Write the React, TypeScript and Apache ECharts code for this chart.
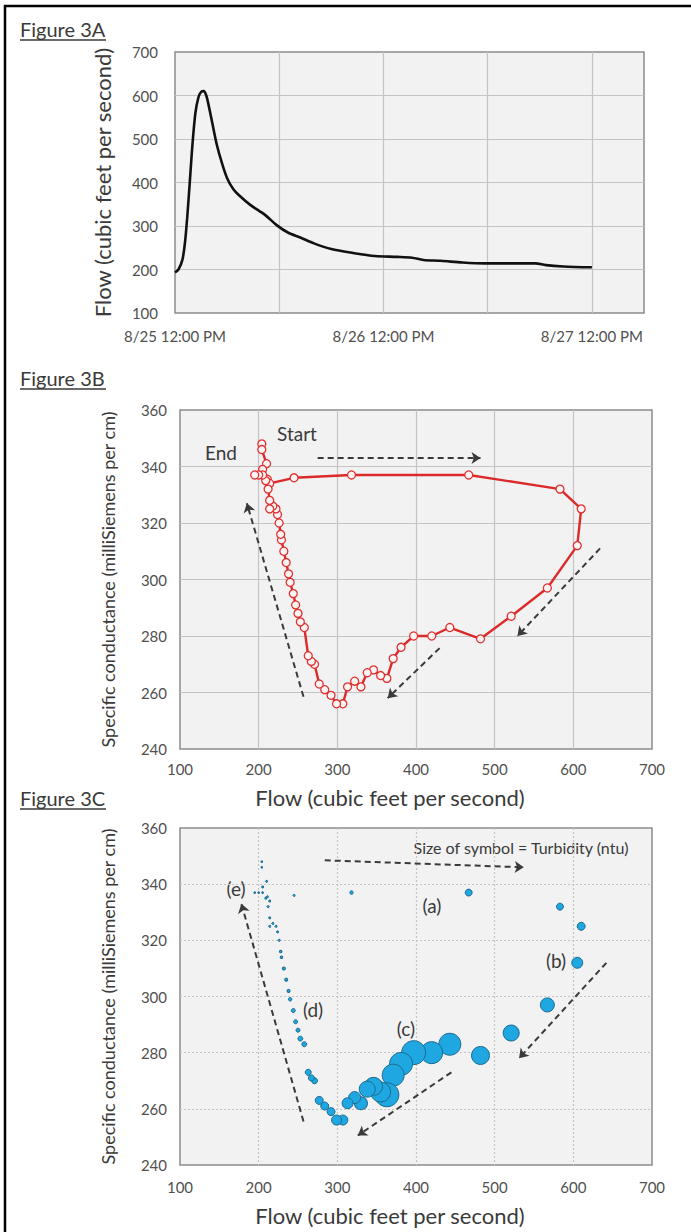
import { useEffect, useRef } from "react";
import * as echarts from "echarts";

// ---------- Figure 3A : flow hydrograph (hours after 8/25 12:00 PM) ----------
const hoursA = [0, 0.4, 0.85, 1.15, 1.4, 1.7, 2.0, 2.35, 2.7, 3.0, 3.3, 3.6, 3.9, 4.3, 4.8, 5.4, 6.0, 6.7, 7.4, 8.7, 10.4, 11.7, 13.0, 14.5, 16.0, 18.0, 20.5, 23.0, 25.6, 27.3, 28.6, 30.6, 33.1, 35.7, 38.2, 41.5, 42.7, 44.7, 48.0];
const flowA = [193, 200, 222, 262, 318, 400, 485, 560, 596, 608, 610, 600, 575, 536, 488, 445, 410, 385, 370, 348, 325, 302, 285, 273, 260, 247, 238, 231, 229, 227, 222, 220, 216, 214, 214, 214, 210, 207, 205];
const timeLabelHours = [0, 24, 48];
const timeLabels = ["8/25 12:00 PM", "8/26 12:00 PM", "8/27 12:00 PM"];

// ---------- Figure 3B / 3C : hysteresis loop (start -> end) ----------
const flowB = [204, 204, 210, 205, 211, 214, 245, 318, 467, 583, 610, 605, 567, 521, 482, 443, 420, 397, 381, 371, 363, 355, 346, 338, 330, 322, 313, 307, 299, 292, 284, 277, 271, 267, 263, 258, 253, 250, 247, 244, 240, 238, 235, 232, 229, 228, 226, 224, 222, 218, 214, 214, 212, 209, 205, 200, 195];
const condB = [348, 346, 341, 339, 335.5, 334, 336, 337, 337, 332, 325, 312, 297, 287, 279, 283, 280, 280, 276, 272, 265, 266, 268, 267, 262, 264, 262, 256, 256, 259, 261, 263, 270, 271, 273, 283, 285, 288, 291, 295, 299, 302, 306, 310, 314, 316, 320, 323, 325, 326, 325, 328, 332, 335, 337, 337, 337];
// turbidity (ntu) for the same samples
const turbidity = [0.6, 0.6, 1, 1, 1, 1, 1, 3, 12, 12, 16, 30, 49, 64, 81, 121, 121, 144, 132, 121, 144, 100, 81, 64, 42, 36, 30, 25, 25, 16, 16, 16, 9, 9, 9, 6, 6, 4, 4, 4, 3, 2.3, 2.3, 2.3, 1.6, 1.6, 1, 1, 1, 1, 1, 1, 1, 1, 0.6, 0.6, 0.6];

const flowTicks = [100, 700, 100];
const condTicks = [240, 360, 20];

const FONT = "Lato";
const labelColor = "#505050";
const titleColor = "#3a3a3a";
const arrowColor = "#3a3a3a";

function arrows(list: number[][]) {
  return {
    silent: true,
    symbol: ["none", "arrow"],
    symbolSize: 9,
    label: { show: false },
    lineStyle: { type: [6, 4], color: arrowColor, width: 2 },
    emphasis: { disabled: true },
    data: list.map((a) => [{ coord: [a[0], a[1]] }, { coord: [a[2], a[3]] }]),
  };
}

export default function App() {
  const ref = useRef<HTMLDivElement>(null);
  useEffect(() => {
    if (!ref.current) return;
    const chart = echarts.init(ref.current, undefined, { renderer: "svg" });

    const gridStyle = {
      show: true,
      backgroundColor: "#f2f2f2",
      borderColor: "#8c8c8c",
      borderWidth: 1.5,
    };
    const valueLabel = { color: labelColor, fontSize: 15, fontFamily: FONT };
    const nameStyle = { color: titleColor, fontSize: 22, fontFamily: FONT };

    const flowXAxis = (gridIndex: number, margin: number, dotted: boolean) => ({
      type: "value",
      gridIndex,
      min: flowTicks[0],
      max: flowTicks[1],
      interval: flowTicks[2],
      axisLine: { show: false },
      axisTick: { show: false },
      axisLabel: { ...valueLabel, margin },
      splitLine: { show: true, showMinLine: false, showMaxLine: false, lineStyle: { color: "#c4c4c4", width: 1.2, type: dotted ? [2, 2] : "solid" } },
      name: "Flow (cubic feet per second)",
      nameLocation: "middle",
      nameGap: gridIndex === 1 ? 37 : 39,
      nameTextStyle: { ...nameStyle, padding: [0, 52, 0, 0] },
    });
    const condYAxis = (gridIndex: number, dotted: boolean) => ({
      type: "value",
      gridIndex,
      min: condTicks[0],
      max: condTicks[1],
      interval: condTicks[2],
      axisLine: { show: false },
      axisTick: { show: false },
      axisLabel: { ...valueLabel, margin: 13 },
      splitLine: { show: true, showMinLine: false, showMaxLine: false, lineStyle: { color: "#c4c4c4", width: 1.2, type: dotted ? [2, 2] : "solid" } },
      name: "Specific conductance (milliSiemens per cm)",
      nameLocation: "middle",
      nameRotate: 90,
      nameGap: 63,
      nameTextStyle: { ...nameStyle, fontSize: 18 },
    });

    const text = (t: string, x: number, y: number, size: number, align = "center") => ({
      type: "text",
      x,
      y,
      silent: true,
      style: { text: t, fill: titleColor, font: `${size}px ${FONT}`, align, verticalAlign: "middle" },
    });
    const figTitle = (t: string, y: number) => [
      text(t, 20, y, 20, "left"),
      { type: "line", silent: true, shape: { x1: 20, y1: y + 11, x2: 106, y2: y + 11 }, style: { stroke: titleColor, lineWidth: 1.6 } },
    ];

    chart.setOption({
      animation: false,
      grid: [
        { left: 175, top: 52, width: 469, height: 261, ...gridStyle },
        { left: 180, top: 410, width: 472, height: 339, ...gridStyle },
        { left: 180, top: 828, width: 472, height: 337, ...gridStyle },
      ],
      xAxis: [
        {
          type: "value",
          gridIndex: 0,
          min: 0,
          max: 54,
          interval: 12,
          axisLine: { show: false },
          axisTick: { show: false },
          axisLabel: {
            ...valueLabel,
            fontSize: 15,
            margin: 15,
            showMaxLabel: false,
            formatter: (v: number) => {
              const i = timeLabelHours.indexOf(v);
              return i >= 0 ? timeLabels[i] : "";
            },
          },
          splitLine: { show: true, showMinLine: false, showMaxLine: false, lineStyle: { color: "#c4c4c4", width: 1.2 } },
        },
        flowXAxis(1, 12, false),
        flowXAxis(2, 14, true),
      ],
      yAxis: [
        {
          type: "value",
          gridIndex: 0,
          min: 100,
          max: 700,
          interval: 100,
          axisLine: { show: false },
          axisTick: { show: false },
          axisLabel: { ...valueLabel, margin: 17 },
          splitLine: { show: true, showMinLine: false, showMaxLine: false, lineStyle: { color: "#c4c4c4", width: 1.2 } },
          name: "Flow (cubic feet per second)",
          nameLocation: "middle",
          nameRotate: 90,
          nameGap: 62,
          nameTextStyle: nameStyle,
        },
        condYAxis(1, false),
        condYAxis(2, true),
      ],
      series: [
        {
          type: "line",
          xAxisIndex: 0,
          yAxisIndex: 0,
          data: hoursA.map((h, i) => [h, flowA[i]]),
          showSymbol: false,
          smooth: 0.3,
          lineStyle: { color: "#111", width: 2.6 },
          silent: true,
        },
        {
          type: "line",
          xAxisIndex: 1,
          yAxisIndex: 1,
          data: flowB.map((f, i) => [f, condB[i]]),
          symbol: "circle",
          symbolSize: 8,
          showSymbol: true,
          itemStyle: { color: "#fff5f5", borderColor: "#e0302f", borderWidth: 1.3 },
          lineStyle: { color: "#dc2a2a", width: 2.4 },
          silent: true,
          markLine: arrows([
            [275, 343, 482, 343],
            [634, 311, 529, 280],
            [430, 275.7, 364, 258],
            [257, 258.5, 185, 327],
          ]),
        },
        {
          type: "scatter",
          xAxisIndex: 2,
          yAxisIndex: 2,
          data: flowB.map((f, i) => [f, condB[i], turbidity[i]]),
          symbolSize: (d: number[]) => 2 * Math.sqrt(d[2]),
          itemStyle: { color: "#1ea7e1", borderColor: "#1c6b90", borderWidth: 1, opacity: 1 },
          silent: true,
          markLine: arrows([
            [284, 348.5, 537, 346],
            [642, 312, 531, 278],
            [445, 273, 326, 250.5],
            [257, 255.5, 178, 333],
          ]),
        },
      ],
      graphic: [
        { type: "rect", silent: true, shape: { x: 5, y: 6, width: 720, height: 1260 }, style: { fill: "none", stroke: "#000", lineWidth: 2.5 } },
        ...figTitle("Figure 3A", 29),
        ...figTitle("Figure 3B", 378),
        ...figTitle("Figure 3C", 798),
        text("Start", 297, 433, 19),
        text("End", 221, 452, 19),
        text("Size of symbol = Turbidity (ntu)", 521, 847, 16),
        text("(a)", 432, 905, 19),
        text("(b)", 556, 960, 19),
        text("(c)", 406, 1028, 19),
        text("(d)", 313, 1009, 19),
        text("(e)", 236, 888, 19),
      ],
    });
    return () => chart.dispose();
  }, []);
  return <div ref={ref} style={{ position: "fixed", left: 0, top: 0, width: 691, height: 1232, background: "#fff" }} />;
}
